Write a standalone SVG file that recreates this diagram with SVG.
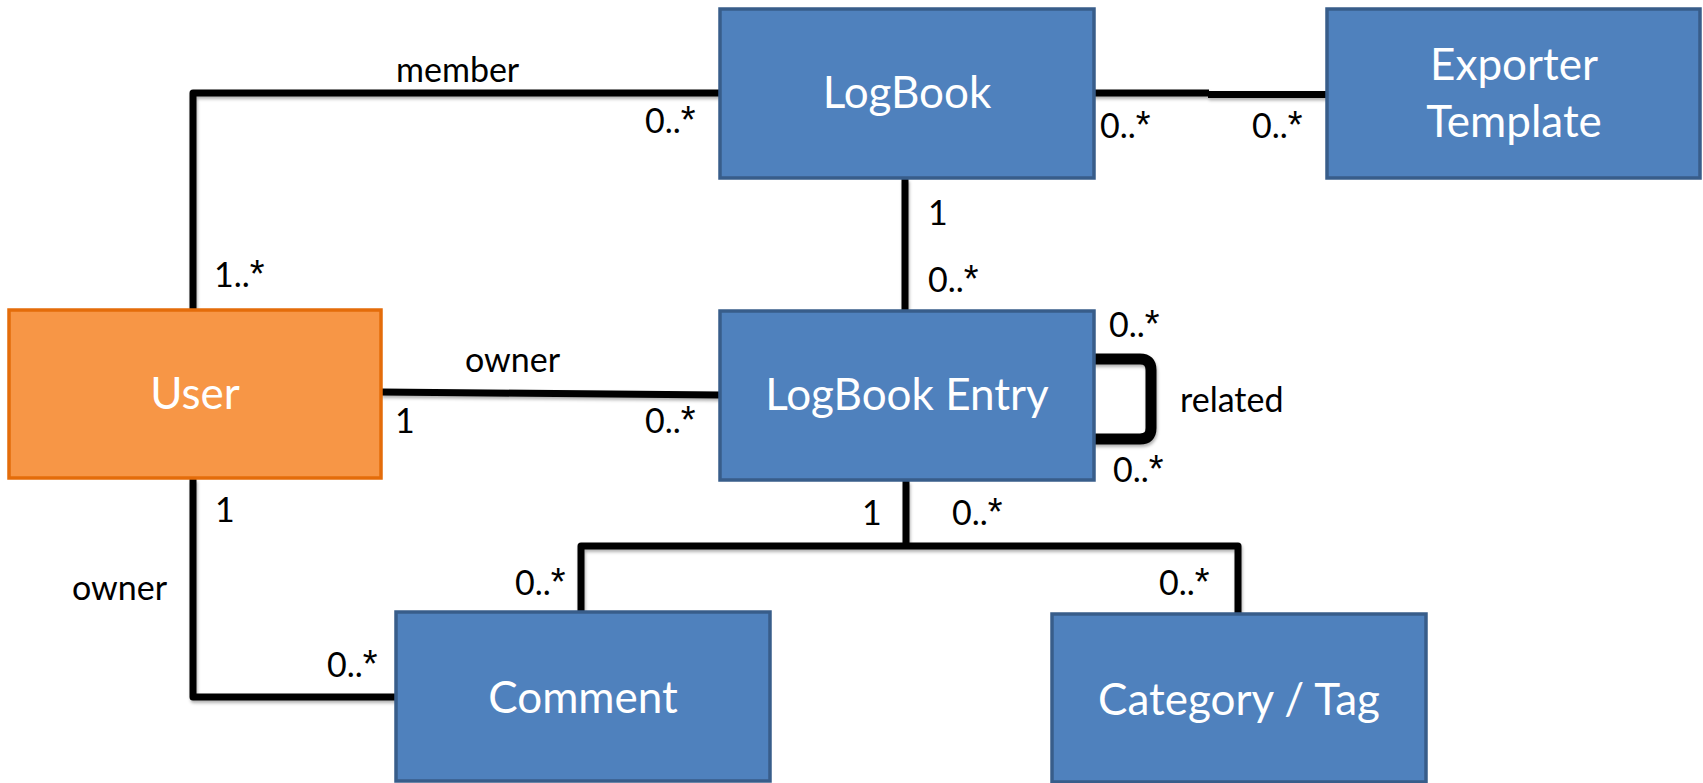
<svg xmlns="http://www.w3.org/2000/svg" width="1703" height="783" viewBox="0 0 1703 783">
  <defs>
    <filter id="lineShadow" x="-5%" y="-5%" width="110%" height="115%">
      <feDropShadow dx="1" dy="2.5" stdDeviation="1.5" flood-color="#000" flood-opacity="0.3"/>
    </filter>
  </defs>
  <style>
    .cls { fill: #4F81BD; stroke: #385D8A; stroke-width: 3.5; }
    .actor { fill: #F79646; stroke: #E46C0A; stroke-width: 3.5; }
    .name { font-family: "Lato", "Open Sans", sans-serif; font-size: 44px; fill: #FFFFFF; text-anchor: middle; }
    .lbl { font-family: "Lato", "Open Sans", sans-serif; font-size: 34px; fill: #000000; }
    .star { font-family: "Liberation Sans", sans-serif; font-size: 38px; }
    .edge { fill: none; stroke: #000000; stroke-width: 7; stroke-linejoin: round; }
  </style>

  <!-- associations -->
  <g id="connectors" filter="url(#lineShadow)">
    <path class="edge" d="M193,309 V93 H720"/>
    <path class="edge" d="M1093,93 H1209"/>
    <path class="edge" d="M1208,94.5 H1328"/>
    <path class="edge" d="M905,179 V311"/>
    <path class="edge" d="M381,392 L721,395"/>
    <path class="edge" d="M193,479 V697 H396"/>
    <path class="edge" d="M906,481 V546"/>
    <path class="edge" d="M581,612 V546 H1238 V614"/>
    <path class="edge" style="stroke-width:11" d="M1093,359 H1140 Q1151,359 1151,370 V428 Q1151,439 1140,439 H1093"/>
  </g>

  <!-- classes -->
  <g id="logbook">
    <rect class="cls" x="720" y="9" width="374" height="169"/>
    <text class="name" x="907" y="108">LogBook</text>
  </g>
  <g id="exporter-template">
    <rect class="cls" x="1327" y="9" width="373" height="169"/>
    <text class="name" x="1514" y="80">Exporter</text>
    <text class="name" x="1514" y="137">Template</text>
  </g>
  <g id="user">
    <rect class="actor" x="9" y="310" width="372" height="168"/>
    <text class="name" x="195" y="409">User</text>
  </g>
  <g id="logbook-entry">
    <rect class="cls" x="720" y="311" width="374" height="169"/>
    <text class="name" x="907" y="410">LogBook Entry</text>
  </g>
  <g id="comment">
    <rect class="cls" x="396" y="612" width="374" height="169"/>
    <text class="name" x="583" y="713">Comment</text>
  </g>
  <g id="category-tag">
    <rect class="cls" x="1052" y="614" width="374" height="168"/>
    <text class="name" x="1239" y="715">Category / Tag</text>
  </g>

  <!-- role names and multiplicities -->
  <g id="labels">
    <text class="lbl" x="396" y="82">member</text>
    <text class="lbl" x="645" y="133">0..<tspan class="star">*</tspan></text>
    <text class="lbl" x="214" y="287">1..<tspan class="star">*</tspan></text>
    <text class="lbl" x="1100" y="138">0..<tspan class="star">*</tspan></text>
    <text class="lbl" x="1252" y="138">0..<tspan class="star">*</tspan></text>
    <text class="lbl" x="928" y="225">1</text>
    <text class="lbl" x="928" y="292">0..<tspan class="star">*</tspan></text>
    <text class="lbl" x="465" y="372">owner</text>
    <text class="lbl" x="395" y="433">1</text>
    <text class="lbl" x="645" y="433">0..<tspan class="star">*</tspan></text>
    <text class="lbl" x="1109" y="337">0..<tspan class="star">*</tspan></text>
    <text class="lbl" x="1180" y="412">related</text>
    <text class="lbl" x="1113" y="482">0..<tspan class="star">*</tspan></text>
    <text class="lbl" x="862" y="525">1</text>
    <text class="lbl" x="952" y="525">0..<tspan class="star">*</tspan></text>
    <text class="lbl" x="215" y="522">1</text>
    <text class="lbl" x="72" y="600">owner</text>
    <text class="lbl" x="327" y="677">0..<tspan class="star">*</tspan></text>
    <text class="lbl" x="515" y="595">0..<tspan class="star">*</tspan></text>
    <text class="lbl" x="1159" y="595">0..<tspan class="star">*</tspan></text>
  </g>
</svg>
